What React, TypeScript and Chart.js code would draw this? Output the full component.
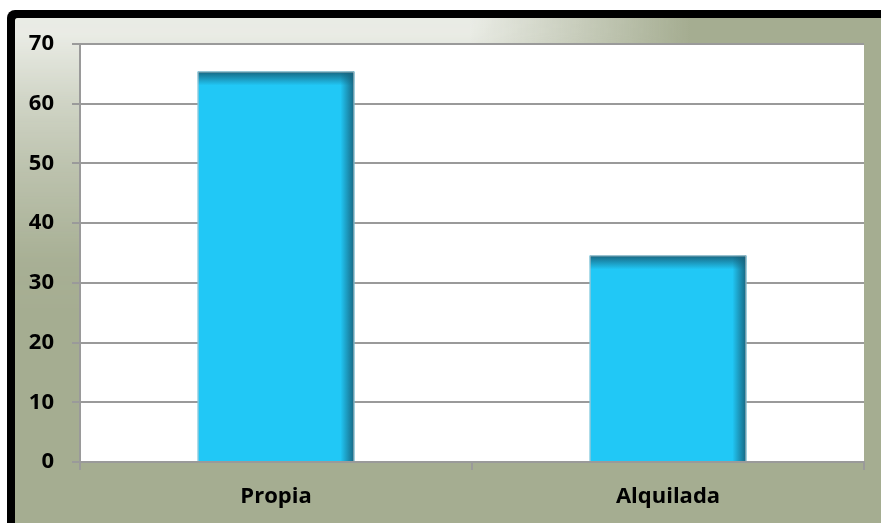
import React, { useEffect, useRef } from "react";
import { Chart, registerables } from "chart.js";

Chart.register(...registerables);

const categories: string[] = ["Propia", "Alquilada"];
const values: number[] = [65.4, 34.6];
const yMin = 0;
const yMax = 70;
const yStep = 10;

const OLIVE = "#A5AD91";
const LIGHT = "235,237,231";
const GRID = "#9A9A9A";
const BAR = "#21C8F6";

const backgroundPlugin = {
  id: "frameBackground",
  beforeDraw(chart: any) {
    const { ctx, width, height, chartArea } = chart;
    ctx.save();
    ctx.fillStyle = "#ffffff";
    ctx.fillRect(0, 0, width, height);
    // black frame (only the top-left corner is visible)
    ctx.fillStyle = "#000000";
    ctx.beginPath();
    ctx.roundRect(7, 10, width + 40, height + 40, [8, 0, 0, 0]);
    ctx.fill();
    // inner background
    ctx.beginPath();
    ctx.roundRect(15, 18, width + 40, height + 40, [3, 0, 0, 0]);
    ctx.fillStyle = OLIVE;
    ctx.fill();
    ctx.clip();
    const off = document.createElement("canvas");
    off.width = width;
    off.height = height;
    const o = off.getContext("2d")!;
    const hg = o.createLinearGradient(0, 0, width, 0);
    hg.addColorStop(0, `rgba(${LIGHT},1)`);
    hg.addColorStop(470 / width, `rgba(${LIGHT},1)`);
    hg.addColorStop(580 / width, `rgba(${LIGHT},0.5)`);
    hg.addColorStop(690 / width, `rgba(${LIGHT},0)`);
    hg.addColorStop(1, `rgba(${LIGHT},0)`);
    o.fillStyle = hg;
    o.fillRect(0, 0, width, height);
    o.globalCompositeOperation = "destination-in";
    const vg = o.createLinearGradient(0, 0, 0, height);
    vg.addColorStop(0, "rgba(0,0,0,1)");
    vg.addColorStop(35 / height, "rgba(0,0,0,0.97)");
    vg.addColorStop(100 / height, "rgba(0,0,0,0.62)");
    vg.addColorStop(165 / height, "rgba(0,0,0,0.35)");
    vg.addColorStop(260 / height, "rgba(0,0,0,0.05)");
    vg.addColorStop(320 / height, "rgba(0,0,0,0)");
    vg.addColorStop(1, "rgba(0,0,0,0)");
    o.fillStyle = vg;
    o.fillRect(0, 0, width, height);
    ctx.drawImage(off, 0, 0);
    ctx.restore();
    // plot area
    ctx.save();
    ctx.fillStyle = "#ffffff";
    ctx.fillRect(chartArea.left, chartArea.top, chartArea.right - chartArea.left, chartArea.bottom - chartArea.top);
    ctx.restore();
  },
};

const barShadePlugin = {
  id: "barShade",
  afterDatasetsDraw(chart: any) {
    const { ctx } = chart;
    const meta = chart.getDatasetMeta(0);
    meta.data.forEach((bar: any) => {
      const { x, y, base, width } = bar.getProps(["x", "y", "base", "width"], true);
      const left = x - width / 2;
      const right = x + width / 2;
      const h = base - y;
      ctx.save();
      ctx.beginPath();
      ctx.rect(left, y, width, h);
      ctx.clip();
      const tg = ctx.createLinearGradient(0, y, 0, y + 14);
      tg.addColorStop(0, "rgba(22,96,122,0.95)");
      tg.addColorStop(1, "rgba(22,96,122,0)");
      ctx.fillStyle = tg;
      ctx.fillRect(left, y, width, 14);
      const rg = ctx.createLinearGradient(right - 14, 0, right, 0);
      rg.addColorStop(0, "rgba(22,96,122,0)");
      rg.addColorStop(1, "rgba(22,96,122,0.95)");
      ctx.fillStyle = rg;
      ctx.fillRect(right - 14, y, 14, h);
      ctx.restore();
      ctx.save();
      ctx.strokeStyle = "rgba(190,200,205,0.9)";
      ctx.lineWidth = 1;
      ctx.beginPath();
      ctx.moveTo(left + 0.5, base);
      ctx.lineTo(left + 0.5, y + 0.5);
      ctx.lineTo(right - 0.5, y + 0.5);
      ctx.lineTo(right - 0.5, base);
      ctx.stroke();
      ctx.restore();
    });
  },
};

export default function App() {
  const ref = useRef<HTMLCanvasElement>(null);
  useEffect(() => {
    if (!ref.current) return;
    const font = { family: "'Open Sans', sans-serif", size: 22, weight: "bold" as const };
    const chart = new Chart(ref.current, {
      type: "bar",
      data: {
        labels: categories,
        datasets: [
          {
            data: values,
            backgroundColor: BAR,
            borderWidth: 0,
            barPercentage: 0.4,
            categoryPercentage: 1,
          },
        ],
      },
      options: {
        animation: false,
        responsive: false,
        maintainAspectRatio: false,
        layout: { padding: { left: 0, top: 44, right: 17, bottom: 0 } },
        plugins: { legend: { display: false }, tooltip: { enabled: false } },
        scales: {
          x: {
            offset: true,
            grid: {
              offset: true,
              drawOnChartArea: false,
              drawTicks: true,
              tickLength: 8,
              color: GRID,
              lineWidth: 2,
            },
            border: { display: true, color: GRID, width: 2 },
            ticks: { color: "#000", font, padding: 14 },
            afterFit: (s: any) => {
              s.height = 61;
            },
          },
          y: {
            min: yMin,
            max: yMax,
            ticks: { stepSize: yStep, color: "#000", font, padding: 18 },
            grid: { color: GRID, lineWidth: 2, tickLength: 8, drawTicks: true },
            border: { display: true, color: GRID, width: 2 },
            afterFit: (s: any) => {
              s.width = 80;
            },
          },
        },
      },
      plugins: [backgroundPlugin, barShadePlugin],
    });
    return () => chart.destroy();
  }, []);
  return (
    <div style={{ position: "fixed", left: 0, top: 0, width: 881, height: 523, background: "#fff" }}>
      <canvas ref={ref} width={881} height={523} style={{ display: "block", width: 881, height: 523 }} />
    </div>
  );
}
